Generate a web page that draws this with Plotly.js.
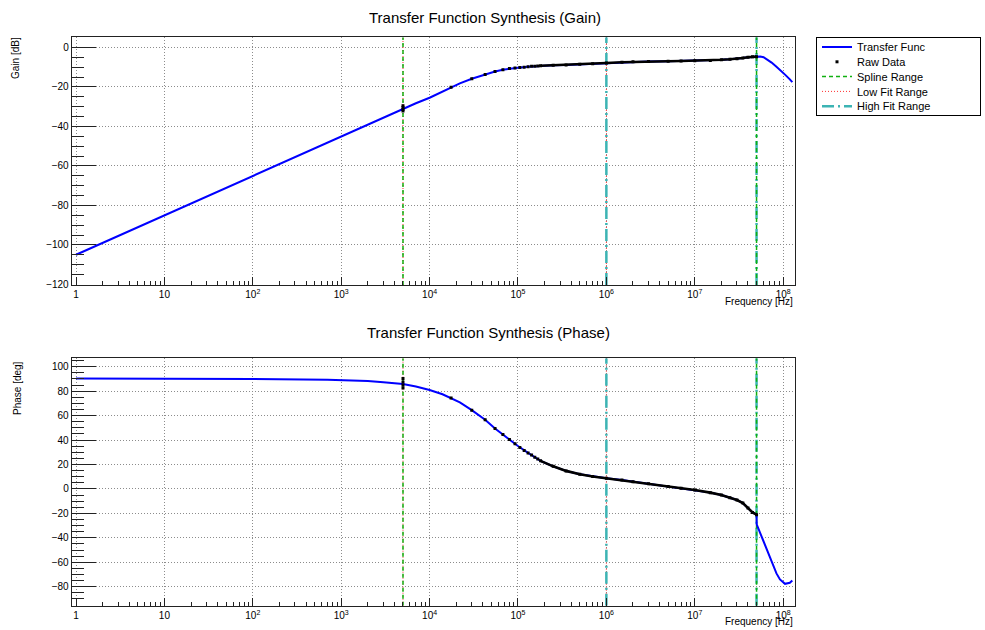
<!DOCTYPE html>
<html><head><meta charset="utf-8">
<script src="https://cdn.plot.ly/plotly-3.0.1.min.js"></script>
<style>html,body{margin:0;padding:0;background:#fff;} #chart{width:985px;height:630px;}</style>
</head><body><div id="chart"></div>
<script>
// Transfer function (blue) – frequency [Hz], gain [dB], phase [deg]
const tfFreq = [1, 10, 100, 700, 1000, 2000, 3000, 5000, 7000, 10000, 14000, 17500, 22000, 30000, 42500, 55000, 67500, 80000, 100000, 130000, 180000, 250000, 350000, 500000, 700000, 1e6, 1.5e6, 2e6, 3e6, 5e6, 7e6, 1e7, 1.5e7, 2e7, 2.5e7, 3e7, 3.5e7, 4e7, 4.5e7, 5e7, 5.02e7, 5.5e7, 6e7, 6.5e7, 7.4e7, 8.4e7, 9.2e7, 1e8, 1.05e8, 1.19e8, 1.27e8];
const tfGain = [-105, -85, -65, -48.1, -45, -39, -35.5, -31, -28.3, -25.5, -22.2, -20.2, -18.2, -15.9, -13.7, -12.2, -11.3, -10.7, -10.3, -9.8, -9.3, -9.1, -8.9, -8.6, -8.3, -7.9, -7.5, -7.3, -7.2, -7.0, -6.9, -6.8, -6.6, -6.3, -6.0, -5.8, -5.4, -5.0, -4.8, -4.7, -4.7, -4.6, -5.0, -6.0, -7.7, -9.8, -11.3, -12.9, -13.8, -16.2, -17.6];
const tfPhase = [90.3, 90.3, 90.0, 89.4, 89.1, 88.3, 87.4, 85.8, 83.8, 80.9, 77.5, 74.5, 70.8, 64.5, 56.6, 49.5, 44.5, 40.5, 35.1, 29.5, 23, 18.5, 14.8, 12, 10.2, 8.7, 7.3, 6.0, 4.2, 2.0, 0.6, -0.9, -3.0, -5.0, -7.2, -9.0, -11.5, -15.5, -19.2, -21, -29, -36.1, -42.7, -48.6, -59.6, -69.1, -74, -76.3, -77.6, -76.7, -74.8];

// Raw measured data (black)
const rawFreq = [5000, 5000, 5000, 5000, 17500, 30000, 42500, 55000, 67500, 80000, 92500, 105000, 117500, 130000, 142500, 155000, 167500, 180000, 250000, 350000, 500000, 700000, 1e6, 1.5e6, 2e6, 3e6, 5e6, 7e6, 1e7, 1.5e7, 2e7, 2.5e7, 3e7, 3.5e7, 4e7, 4.5e7, 5e7];
const rawGain = [-29.6, -30.5, -31.4, -32.2, -20.2, -15.9, -13.7, -12.2, -11.3, -10.7, -10.4, -10.2, -10.0, -9.8, -9.6, -9.5, -9.4, -9.3, -9.1, -8.9, -8.6, -8.3, -7.9, -7.5, -7.3, -7.2, -7.0, -6.9, -6.8, -6.6, -6.3, -6.0, -5.8, -5.4, -5.0, -4.8, -4.7];
const rawPhase = [90.3, 87.5, 85, 82.5, 74.5, 64.5, 56.6, 49.5, 44.5, 40.5, 37, 34, 31.5, 29.5, 27.7, 26, 24.5, 23, 18.5, 14.8, 12, 10.2, 8.7, 7.3, 6.0, 4.2, 2.0, 0.6, -0.9, -3.0, -5.0, -7.2, -9.0, -11.5, -15.5, -19.2, -21];

// Fit ranges [Hz]
const splineRange = [5000, 5e7];
const lowFitRange = [5000, 1e6];
const highFitRange = [1e6, 5e7];

// Axis ticks
const decadeTicks = [1, 10, 100, 1e3, 1e4, 1e5, 1e6, 1e7, 1e8];
const decadeLabels = ['1', '10', '10<sup>2</sup>', '10<sup>3</sup>', '10<sup>4</sup>', '10<sup>5</sup>', '10<sup>6</sup>', '10<sup>7</sup>', '10<sup>8</sup>'];
const gainRange = [-120.3, 5.1];
const phaseRange = [-95.5, 106.9];

const W = 985, H = 630;
const FONT = 'Liberation Sans, Arial, Helvetica, sans-serif';
const denseFrom = rawFreq.findIndex(f => f >= 180000);

function vl(r, yr) {
  return { x: [r[0], r[0], null, r[1], r[1]], y: [yr[0], yr[1], null, yr[0], yr[1]] };
}

const traces = [];
[['x', 'y', gainRange, true], ['x2', 'y2', phaseRange, false]].forEach(([xa, ya, yr, leg]) => {
  const low = vl(lowFitRange, yr), high = vl(highFitRange, yr), spl = vl(splineRange, yr);
  traces.push({ x: low.x, y: low.y, xaxis: xa, yaxis: ya, mode: 'lines', name: 'Low Fit Range',
    line: { color: '#ff3030', width: 1, dash: '1px,2px' }, showlegend: leg, legendrank: 4, legendgroup: 'low', hoverinfo: 'skip' });
  traces.push({ x: high.x, y: high.y, xaxis: xa, yaxis: ya, mode: 'lines', name: 'High Fit Range',
    line: { color: '#3cb4b4', width: 2.5, dash: '12px,4px,2px,4px' }, showlegend: leg, legendrank: 5, legendgroup: 'high', hoverinfo: 'skip' });
  traces.push({ x: spl.x, y: spl.y, xaxis: xa, yaxis: ya, mode: 'lines', name: 'Spline Range',
    line: { color: '#10b010', width: 1.5, dash: '4px,3px' }, showlegend: leg, legendrank: 3, legendgroup: 'spline', hoverinfo: 'skip' });
  traces.push({ x: tfFreq, y: leg ? tfGain : tfPhase, xaxis: xa, yaxis: ya, mode: 'lines', name: 'Transfer Func',
    line: { color: '#0000ff', width: 2 }, showlegend: leg, legendrank: 1, legendgroup: 'tf' });
  const rv = leg ? rawGain : rawPhase;
  traces.push({ x: rawFreq.slice(denseFrom), y: rv.slice(denseFrom), xaxis: xa, yaxis: ya, mode: 'lines', name: 'Raw Data',
    line: { color: '#000000', width: 2.6 }, showlegend: false, legendgroup: 'raw', hoverinfo: 'skip' });
  traces.push({ x: rawFreq, y: rv, xaxis: xa, yaxis: ya, mode: 'markers', name: 'Raw Data',
    marker: { color: '#000000', size: 3, symbol: 'square' }, showlegend: leg, legendrank: 2, legendgroup: 'raw' });
});

const xDom = [71.7 / W, 795 / W];
const common = {
  ticks: 'inside', tickcolor: '#222', showline: true, linecolor: '#222', linewidth: 1, mirror: true,
  showgrid: true, gridcolor: '#8c8c8c', griddash: '1px,2px', gridwidth: 1, zeroline: false,
  tickfont: { size: 10, color: '#000', family: FONT }
};
function xAxis(anchor) {
  return Object.assign({}, common, {
    type: 'log', domain: xDom, range: [-0.049, 8.134], anchor: anchor,
    tickmode: 'array', tickvals: decadeTicks, ticktext: decadeLabels, ticklen: 8,
    minor: { ticks: 'inside', ticklen: 4, dtick: 'D1', tickcolor: '#222', showgrid: false }
  });
}
function yAxis(anchor, dom, rng) {
  return Object.assign({}, common, {
    domain: dom, range: rng, anchor: anchor, tick0: 0, dtick: 20, ticklen: 24,
    minor: { ticks: 'inside', ticklen: 12, dtick: 5, tickcolor: '#222', showgrid: false }
  });
}

const ann = (text, x, y, opts) => Object.assign({ text: text, x: x / W, y: 1 - y / H, xref: 'paper', yref: 'paper', showarrow: false,
  font: { family: FONT, size: 10, color: '#000' } }, opts || {});

const layout = {
  width: W, height: H, margin: { l: 0, r: 0, t: 0, b: 0 }, paper_bgcolor: '#fff', plot_bgcolor: '#fff',
  font: { family: FONT, size: 10, color: '#000' },
  showlegend: true,
  legend: { x: 816 / W, y: 1 - 37 / H, xanchor: 'left', yanchor: 'top', bordercolor: '#000', borderwidth: 1, bgcolor: '#fff',
    font: { family: FONT, size: 11, color: '#000' }, traceorder: 'normal' },
  xaxis: xAxis('y'),
  yaxis: yAxis('x', [1 - 285 / H, 1 - 37.3 / H], gainRange),
  xaxis2: xAxis('y2'),
  yaxis2: yAxis('x2', [1 - 605.7 / H, 1 - 358.3 / H], phaseRange),
  annotations: [
    ann('Transfer Function Synthesis (Gain)', 485, 17, { font: { family: FONT, size: 15, color: '#000' }, xanchor: 'center', yanchor: 'middle' }),
    ann('Transfer Function Synthesis (Phase)', 488, 332, { font: { family: FONT, size: 15, color: '#000' }, xanchor: 'center', yanchor: 'middle' }),
    ann('Gain [dB]', 15, 35, { textangle: -90, xanchor: 'center', yanchor: 'top' }),
    ann('Phase [deg]', 17, 359, { textangle: -90, xanchor: 'center', yanchor: 'top' }),
    ann('Frequency [Hz]', 795, 301, { xanchor: 'right', yanchor: 'middle' }),
    ann('Frequency [Hz]', 795, 621, { xanchor: 'right', yanchor: 'middle' })
  ]
};

Plotly.newPlot('chart', traces, layout, { displayModeBar: false, staticPlot: true }).then(gd => {
  // compact the legend rows to match the reference box (816..980 x 37..115)
  const leg = gd.querySelector('.legend');
  if (!leg) return;
  leg.querySelectorAll('.traces').forEach((g, i) => {
    g.setAttribute('transform', 'translate(1,' + (10 + i * 14.8) + ')');
  });
  const bg = leg.querySelector('rect.bg');
  if (bg) { bg.setAttribute('width', 164); bg.setAttribute('height', 78); }
});
</script>
</body></html>
